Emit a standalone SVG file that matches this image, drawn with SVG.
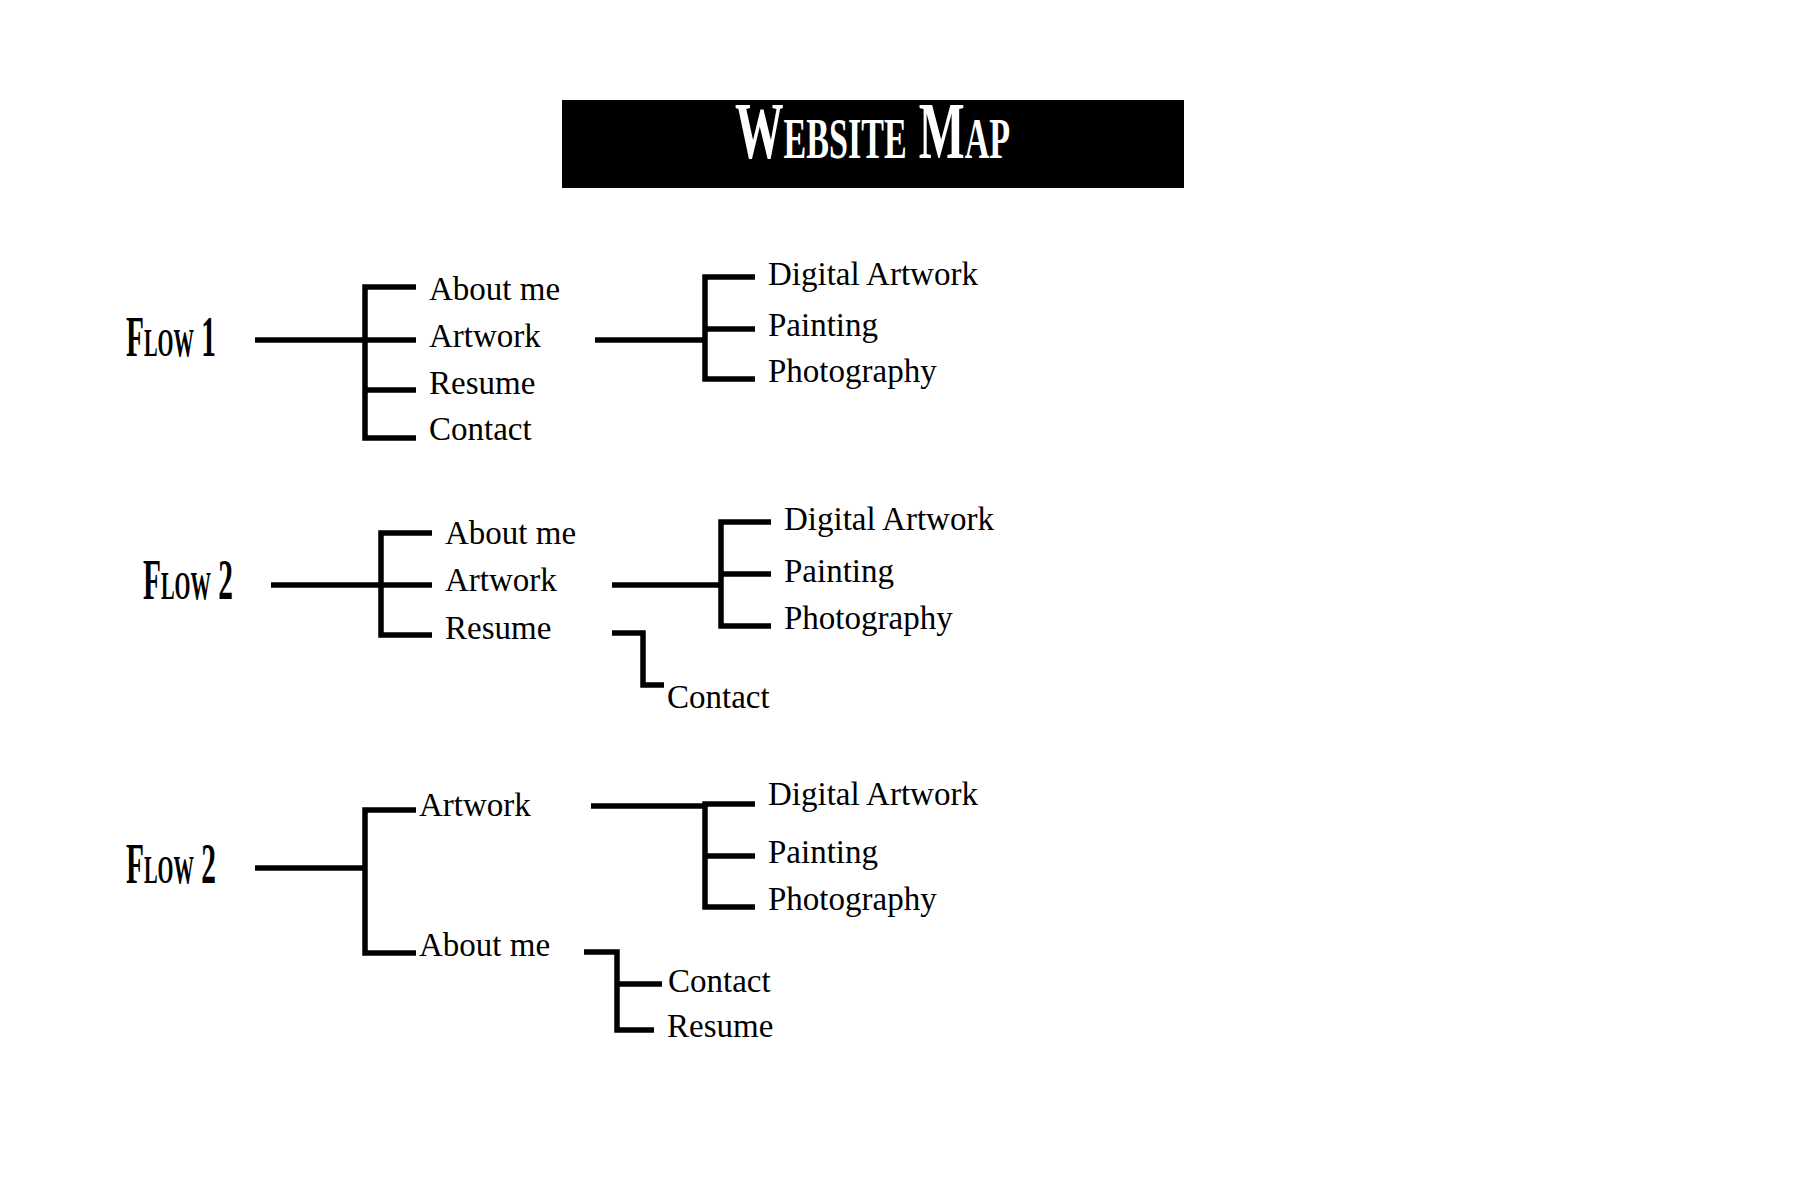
<svg xmlns="http://www.w3.org/2000/svg" width="1800" height="1200" viewBox="0 0 1800 1200">
<style>
.ln{fill:none;stroke:#000;stroke-width:5.5;stroke-linejoin:miter;stroke-linecap:butt}
.lb{font-family:"Liberation Serif","Times New Roman",serif;font-size:33px;fill:#000}
.fl{font-family:"Liberation Serif","Times New Roman",serif;font-size:56px;font-weight:bold;font-variant:small-caps;fill:#000}
.tt{font-family:"Liberation Serif","Times New Roman",serif;font-size:80px;font-weight:bold;font-variant:small-caps;fill:#fff}
</style>
<rect width="1800" height="1200" fill="#fff"/>
<g id="title">
<rect x="562" y="100" width="622" height="88" fill="#000"/>
<text class="tt" x="735" y="158" textLength="275" lengthAdjust="spacingAndGlyphs">Website Map</text>
</g>
<g id="connectors">
<path class="ln" d="M255,340 H416"/>
<path class="ln" d="M416,287 H365 V438 H416"/>
<path class="ln" d="M365,390 H416"/>
<path class="ln" d="M595,340 H705"/>
<path class="ln" d="M755,277 H705 V379 H755"/>
<path class="ln" d="M705,329 H755"/>
<path class="ln" d="M271,585 H432"/>
<path class="ln" d="M432,533 H381 V635 H432"/>
<path class="ln" d="M612,585 H721"/>
<path class="ln" d="M771,522 H721 V626 H771"/>
<path class="ln" d="M721,574 H771"/>
<path class="ln" d="M612,633 H643 V685 H664"/>
<path class="ln" d="M255,868 H365"/>
<path class="ln" d="M416,810 H365 V953 H416"/>
<path class="ln" d="M591,806 H705"/>
<path class="ln" d="M755,804 H705 V907 H755"/>
<path class="ln" d="M705,856 H755"/>
<path class="ln" d="M584,952 H617 V1030 H654"/>
<path class="ln" d="M617,984 H662"/>
</g>
<g id="flow1">
<text class="fl" x="126" y="356" textLength="90" lengthAdjust="spacingAndGlyphs">Flow 1</text>
</g>
<g id="f1-about"><text class="lb" x="429" y="300">About me</text></g>
<g id="f1-artwork"><text class="lb" x="429" y="347">Artwork</text></g>
<g id="f1-resume"><text class="lb" x="429" y="394">Resume</text></g>
<g id="f1-contact"><text class="lb" x="429" y="440">Contact</text></g>
<g id="f1-digital"><text class="lb" x="768" y="285">Digital Artwork</text></g>
<g id="f1-painting"><text class="lb" x="768" y="336">Painting</text></g>
<g id="f1-photo"><text class="lb" x="768" y="382">Photography</text></g>

<g id="flow2a">
<text class="fl" x="143" y="599" textLength="90" lengthAdjust="spacingAndGlyphs">Flow 2</text>
</g>
<g id="f2-about"><text class="lb" x="445" y="544">About me</text></g>
<g id="f2-artwork"><text class="lb" x="445" y="591">Artwork</text></g>
<g id="f2-resume"><text class="lb" x="445" y="639">Resume</text></g>
<g id="f2-digital"><text class="lb" x="784" y="530">Digital Artwork</text></g>
<g id="f2-painting"><text class="lb" x="784" y="582">Painting</text></g>
<g id="f2-photo"><text class="lb" x="784" y="629">Photography</text></g>
<g id="f2-contact"><text class="lb" x="667" y="708">Contact</text></g>

<g id="flow2b">
<text class="fl" x="126" y="883" textLength="90" lengthAdjust="spacingAndGlyphs">Flow 2</text>
</g>
<g id="f3-artwork"><text class="lb" x="419" y="816">Artwork</text></g>
<g id="f3-about"><text class="lb" x="419" y="956">About me</text></g>
<g id="f3-digital"><text class="lb" x="768" y="805">Digital Artwork</text></g>
<g id="f3-painting"><text class="lb" x="768" y="863">Painting</text></g>
<g id="f3-photo"><text class="lb" x="768" y="910">Photography</text></g>
<g id="f3-contact"><text class="lb" x="668" y="992">Contact</text></g>
<g id="f3-resume"><text class="lb" x="667" y="1037">Resume</text></g>
</svg>
